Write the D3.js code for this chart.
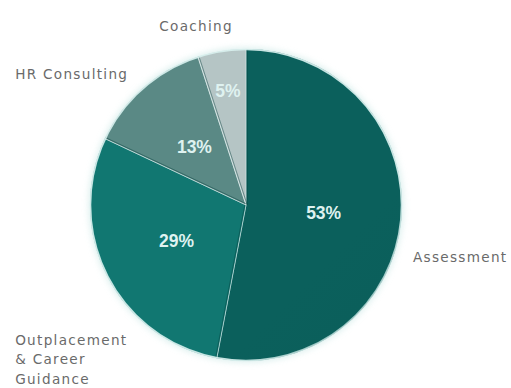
<!DOCTYPE html>
<html>
<head>
<meta charset="utf-8">
<script src="https://cdn.jsdelivr.net/npm/d3@7"></script>
<style>
  html, body { margin: 0; padding: 0; background: #ffffff; }
  svg { display: block; }
</style>
</head>
<body>
<svg id="chart" width="511" height="388"></svg>
<script>
// Revenue share by service line
const categories = ["Assessment", "Outplacement\n& Career\nGuidance", "HR Consulting", "Coaching"];
const shares = [53, 29, 13, 5];
const shareLabels = ["53%", "29%", "13%", "5%"];
const sliceColors = ["#0b5c58", "#10726c", "#56837f", "#adbdbd"];

const W = 511, H = 388;
const cx = 246, cy = 205, R = 156;

const svg = d3.select("#chart");
const defs = svg.append("defs");

// soft halo around the disc
const halo = defs.append("filter").attr("id", "halo")
  .attr("x", "-20%").attr("y", "-20%").attr("width", "140%").attr("height", "140%");
halo.append("feGaussianBlur").attr("stdDeviation", 3);

// per-slice shading: lighter upper-left, darker lower-right
sliceColors.forEach((c, i) => {
  const g = defs.append("linearGradient").attr("id", "shade" + i)
    .attr("gradientUnits", "userSpaceOnUse")
    .attr("x1", cx - R).attr("y1", cy - R).attr("x2", cx + R).attr("y2", cy + R);
  g.append("stop").attr("offset", "0%").attr("stop-color", d3.color(c).brighter(0.12));
  g.append("stop").attr("offset", "55%").attr("stop-color", c);
  g.append("stop").attr("offset", "100%").attr("stop-color", d3.color(c).darker(0.3));
});

// rim: light on the upper-left, dark on the lower-right
const rim = defs.append("linearGradient").attr("id", "rim")
  .attr("gradientUnits", "userSpaceOnUse")
  .attr("x1", cx - R).attr("y1", cy - R).attr("x2", cx + R).attr("y2", cy + R);
rim.append("stop").attr("offset", "0%").attr("stop-color", "#d8f0ee").attr("stop-opacity", 0.9);
rim.append("stop").attr("offset", "50%").attr("stop-color", "#6fa6a2").attr("stop-opacity", 0.4);
rim.append("stop").attr("offset", "100%").attr("stop-color", "#033a37").attr("stop-opacity", 0.95);

const pie = d3.pie().sort(null).value(d => d)
  .startAngle(0).endAngle(2 * Math.PI);
const arcs = pie(shares);

const arc = d3.arc().innerRadius(0).outerRadius(R);

const g = svg.append("g").attr("transform", `translate(${cx},${cy})`);

// halo behind the disc
g.append("circle").attr("r", R + 1.5)
  .attr("fill", "#bfe3e0").attr("opacity", 0.55)
  .attr("filter", "url(#halo)");

// slices
g.selectAll("path.slice").data(arcs).join("path")
  .attr("class", "slice")
  .attr("d", arc)
  .attr("fill", (d, i) => `url(#shade${i})`)
  .attr("stroke", "#e8f6f5")
  .attr("stroke-opacity", 0.5)
  .attr("stroke-width", 1)
  .attr("stroke-linejoin", "round");

// dark seam on the right side of each radial edge
g.selectAll("line.seam").data(arcs).join("line")
  .attr("class", "seam")
  .attr("x1", 0).attr("y1", 0)
  .attr("x2", d => R * Math.sin(d.startAngle))
  .attr("y2", d => -R * Math.cos(d.startAngle))
  .attr("stroke", "#053f3c")
  .attr("stroke-opacity", 0.45)
  .attr("stroke-width", 1)
  .attr("transform", d => {
    const a = d.startAngle;
    return `translate(${Math.cos(a) * 1.2},${Math.sin(a) * 1.2})`;
  });

// outer rim
g.append("circle").attr("r", R - 0.5)
  .attr("fill", "none")
  .attr("stroke", "url(#rim)")
  .attr("stroke-width", 1.6);

// value labels inside the slices; thin slices push their label outward
g.selectAll("text.value").data(arcs).join("text")
  .attr("class", "value")
  .attr("transform", d => {
    const frac = (d.data / 100) < 0.08 ? 0.74 : 0.5;
    const c = d3.arc().innerRadius(0).outerRadius(2 * R * frac).centroid(d);
    return `translate(${c[0]},${c[1]})`;
  })
  .attr("text-anchor", "middle")
  .attr("dy", "0.36em")
  .attr("font-family", "'Liberation Sans', Arial, sans-serif")
  .attr("font-weight", "bold")
  .attr("font-size", 17.5)
  .attr("fill", "#dff2f0")
  .text((d, i) => shareLabels[i]);

// category labels placed around the disc (offsets in radius units)
const labelLayout = [
  { dx: 1.07, dy: 0.365, anchor: "start" },   // Assessment
  { dx: -1.48, dy: 0.897, anchor: "start" },  // Outplacement & Career Guidance
  { dx: -1.48, dy: -0.805, anchor: "start" }, // HR Consulting
  { dx: -0.32, dy: -1.115, anchor: "middle" } // Coaching
];

const lineHeight = 19.5;
categories.forEach((name, i) => {
  const L = labelLayout[i];
  const t = g.append("text")
    .attr("x", L.dx * R)
    .attr("y", L.dy * R)
    .attr("text-anchor", L.anchor)
    .attr("font-family", "'DejaVu Sans', Verdana, sans-serif")
    .attr("font-size", 13.6)
    .attr("letter-spacing", 1.3)
    .attr("fill", "#6a6a6a");
  name.split("\n").forEach((line, j) => {
    t.append("tspan")
      .attr("x", L.dx * R)
      .attr("dy", j === 0 ? 0 : lineHeight)
      .text(line);
  });
});
</script>
</body>
</html>
